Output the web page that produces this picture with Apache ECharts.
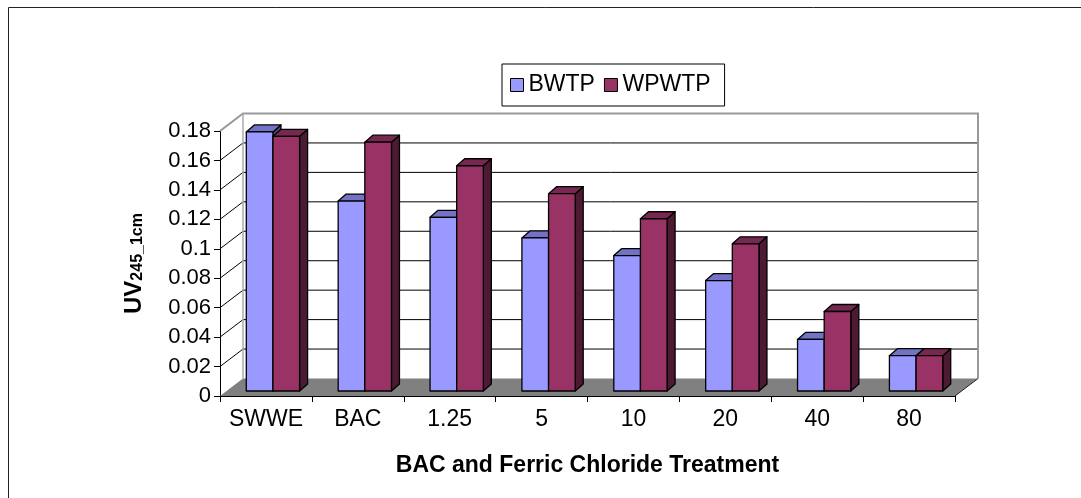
<!DOCTYPE html>
<html>
<head>
<meta charset="utf-8">
<script src="https://cdn.jsdelivr.net/npm/echarts@6/dist/echarts.min.js"></script>
<style>
html,body{margin:0;padding:0;background:#fff;}
#chart{width:1081px;height:498px;}
</style>
</head>
<body>
<div id="chart"></div>
<script>
// ---- data ----
const categories = ['SWWE', 'BAC', '1.25', '5', '10', '20', '40', '80'];
const seriesNames = ['BWTP', 'WPWTP'];
const bwtp  = [0.176, 0.129, 0.118, 0.104, 0.092, 0.075, 0.035, 0.024];
const wpwtp = [0.173, 0.169, 0.153, 0.134, 0.117, 0.100, 0.054, 0.024];
const yTickValues = [0, 0.02, 0.04, 0.06, 0.08, 0.1, 0.12, 0.14, 0.16, 0.18];
const yTickLabels = ['0', '0.02', '0.04', '0.06', '0.08', '0.1', '0.12', '0.14', '0.16', '0.18'];
const xTitle = 'BAC and Ferric Chloride Treatment';

// ---- styles ----
const FONT = "'Liberation Sans', Arial, sans-serif";
const DEPTH = [23, -17.5];      // floor / wall depth
const BAR_OFF = [7, -5];        // bar front plane offset
const BAR_DEPTH = [8, -7];      // bar depth
const BAR_FRAC = 0.29;
const COLORS = {
  BWTP: { front: '#9999FF', top: '#7373C6', side: '#4D4D80' },
  WPWTP: { front: '#993366', top: '#772850', side: '#4D1A33' }
};

const chart = echarts.init(document.getElementById('chart'), null, { renderer: 'canvas' });

function frameRender(params, api) {
  const cs = params.coordSys;
  const x0 = cs.x, x1 = cs.x + cs.width;
  const y0 = api.coord([0, 0])[1];
  const yTop = api.coord([0, yTickValues[yTickValues.length - 1]])[1];
  const dx = DEPTH[0], dy = DEPTH[1];
  const children = [];
  children.push({ type: 'polygon', shape: { points: [[x0 + dx, y0 + dy], [x1 + dx, y0 + dy], [x1 + dx, yTop + dy], [x0 + dx, yTop + dy]] },
    style: { fill: '#fff', stroke: null } });
  for (let k = 1; k < yTickValues.length - 1; k++) {
    const y = api.coord([0, yTickValues[k]])[1];
    children.push({ type: 'line', shape: { x1: x0 + dx, y1: y + dy, x2: x1 + dx, y2: y + dy }, style: { stroke: '#000', lineWidth: 1 } });
    children.push({ type: 'line', shape: { x1: x0, y1: y, x2: x0 + dx, y2: y + dy }, style: { stroke: '#000', lineWidth: 1 } });
  }
  const g = { stroke: '#999', lineWidth: 2 };
  children.push({ type: 'polyline', shape: { points: [[x0, yTop], [x0 + dx, yTop + dy], [x1 + dx, yTop + dy], [x1 + dx, y0 + dy]] }, style: Object.assign({ fill: null }, g) });
  children.push({ type: 'line', shape: { x1: x0 + dx, y1: yTop + dy, x2: x0 + dx, y2: y0 + dy }, style: { stroke: '#aaa', lineWidth: 1.5 } });
  children.push({ type: 'polygon', shape: { points: [[x0, y0], [x1, y0], [x1 + dx, y0 + dy], [x0 + dx, y0 + dy]] },
    style: { fill: '#808080', stroke: null } });
  children.push({ type: 'line', shape: { x1: x1, y1: y0, x2: x1 + dx, y2: y0 + dy }, style: { stroke: '#222', lineWidth: 1 } });
  return { type: 'group', children: children };
}

function makeBarRender(which) {
  const c = COLORS[seriesNames[which]];
  return function (params, api) {
    const i = api.value(0), v = api.value(1);
    const base = api.coord([i, 0]);
    const top = api.coord([i, v]);
    const bw = api.size([1, 0])[0];
    const w = bw * BAR_FRAC;
    const xa = base[0] + BAR_OFF[0] + (which === 0 ? -w : 0);
    const xb = xa + w;
    const yb = base[1] + BAR_OFF[1], yt = top[1] + BAR_OFF[1];
    const dx = BAR_DEPTH[0], dy = BAR_DEPTH[1];
    const st = { stroke: '#000', lineWidth: 1.3, lineJoin: 'round' };
    return {
      type: 'group',
      children: [
        { type: 'polygon', shape: { points: [[xb, yb], [xb + dx, yb + dy], [xb + dx, yt + dy], [xb, yt]] }, style: Object.assign({ fill: c.side }, st) },
        { type: 'polygon', shape: { points: [[xa, yt], [xb, yt], [xb + dx, yt + dy], [xa + dx, yt + dy]] }, style: Object.assign({ fill: c.top }, st) },
        { type: 'polygon', shape: { points: [[xa, yb], [xb, yb], [xb, yt], [xa, yt]] }, style: Object.assign({ fill: c.front }, st) }
      ]
    };
  };
}

const option = {
  backgroundColor: '#fff',
  animation: false,
  textStyle: { fontFamily: FONT },
  graphic: [{
    type: 'rect', silent: true, z: -10,
    shape: { x: 8.5, y: 7.5, width: 1200, height: 600 },
    style: { fill: null, stroke: '#222', lineWidth: 1 }
  }],
  legend: {
    data: seriesNames,
    left: 502, top: 64,
    padding: [8, 14, 8, 8],
    itemGap: 9,
    itemWidth: 13, itemHeight: 13,
    icon: 'rect',
    borderColor: '#000', borderWidth: 1,
    itemStyle: { borderColor: '#000', borderWidth: 1 },
    textStyle: { fontFamily: FONT, fontSize: 23, color: '#000', lineHeight: 26 }
  },
  grid: { left: 220, top: 131, width: 735, height: 265, containLabel: false },
  xAxis: {
    type: 'category',
    data: categories,
    axisLine: { lineStyle: { color: '#000', width: 1 } },
    axisTick: { show: true, length: 6, interval: 0, lineStyle: { color: '#000' } },
    axisLabel: { fontFamily: FONT, fontSize: 23, color: '#000', margin: 12, interval: 0 },
    splitLine: { show: false },
    name: xTitle,
    nameLocation: 'middle',
    nameGap: 58,
    nameTextStyle: { fontFamily: FONT, fontSize: 23, fontWeight: 'bold', color: '#000' }
  },
  yAxis: {
    type: 'value',
    min: 0, max: 0.18, interval: 0.02,
    axisLine: { show: true, lineStyle: { color: '#000', width: 1 } },
    axisTick: { show: true, length: 6, lineStyle: { color: '#000' } },
    axisLabel: {
      fontFamily: FONT, fontSize: 22, color: '#000', margin: 9,
      formatter: function (v) { return yTickLabels[Math.round(v / 0.02)]; }
    },
    splitLine: { show: false },
    name: '{m|UV}{s|245_1cm}',
    nameLocation: 'middle',
    nameRotate: 90,
    nameGap: 74,
    nameTextStyle: {
      rich: {
        m: { fontFamily: FONT, fontSize: 24, fontWeight: 'bold', color: '#000', lineHeight: 30, verticalAlign: 'bottom' },
        s: { fontFamily: FONT, fontSize: 16, fontWeight: 'bold', color: '#000', lineHeight: 18, verticalAlign: 'bottom' }
      }
    }
  },
  series: [
    {
      type: 'custom', name: 'frame', z: 1, silent: true, clip: false,
      renderItem: frameRender,
      data: [[0, 0]]
    },
    {
      type: 'custom', name: seriesNames[0], z: 3, clip: false,
      itemStyle: { color: COLORS.BWTP.front, borderColor: '#000', borderWidth: 1 },
      renderItem: makeBarRender(0),
      encode: { x: 0, y: 1 },
      data: bwtp.map(function (v, i) { return [i, v]; })
    },
    {
      type: 'custom', name: seriesNames[1], z: 3, clip: false,
      itemStyle: { color: COLORS.WPWTP.front, borderColor: '#000', borderWidth: 1 },
      renderItem: makeBarRender(1),
      encode: { x: 0, y: 1 },
      data: wpwtp.map(function (v, i) { return [i, v]; })
    }
  ]
};
chart.setOption(option);
</script>
</body>
</html>
